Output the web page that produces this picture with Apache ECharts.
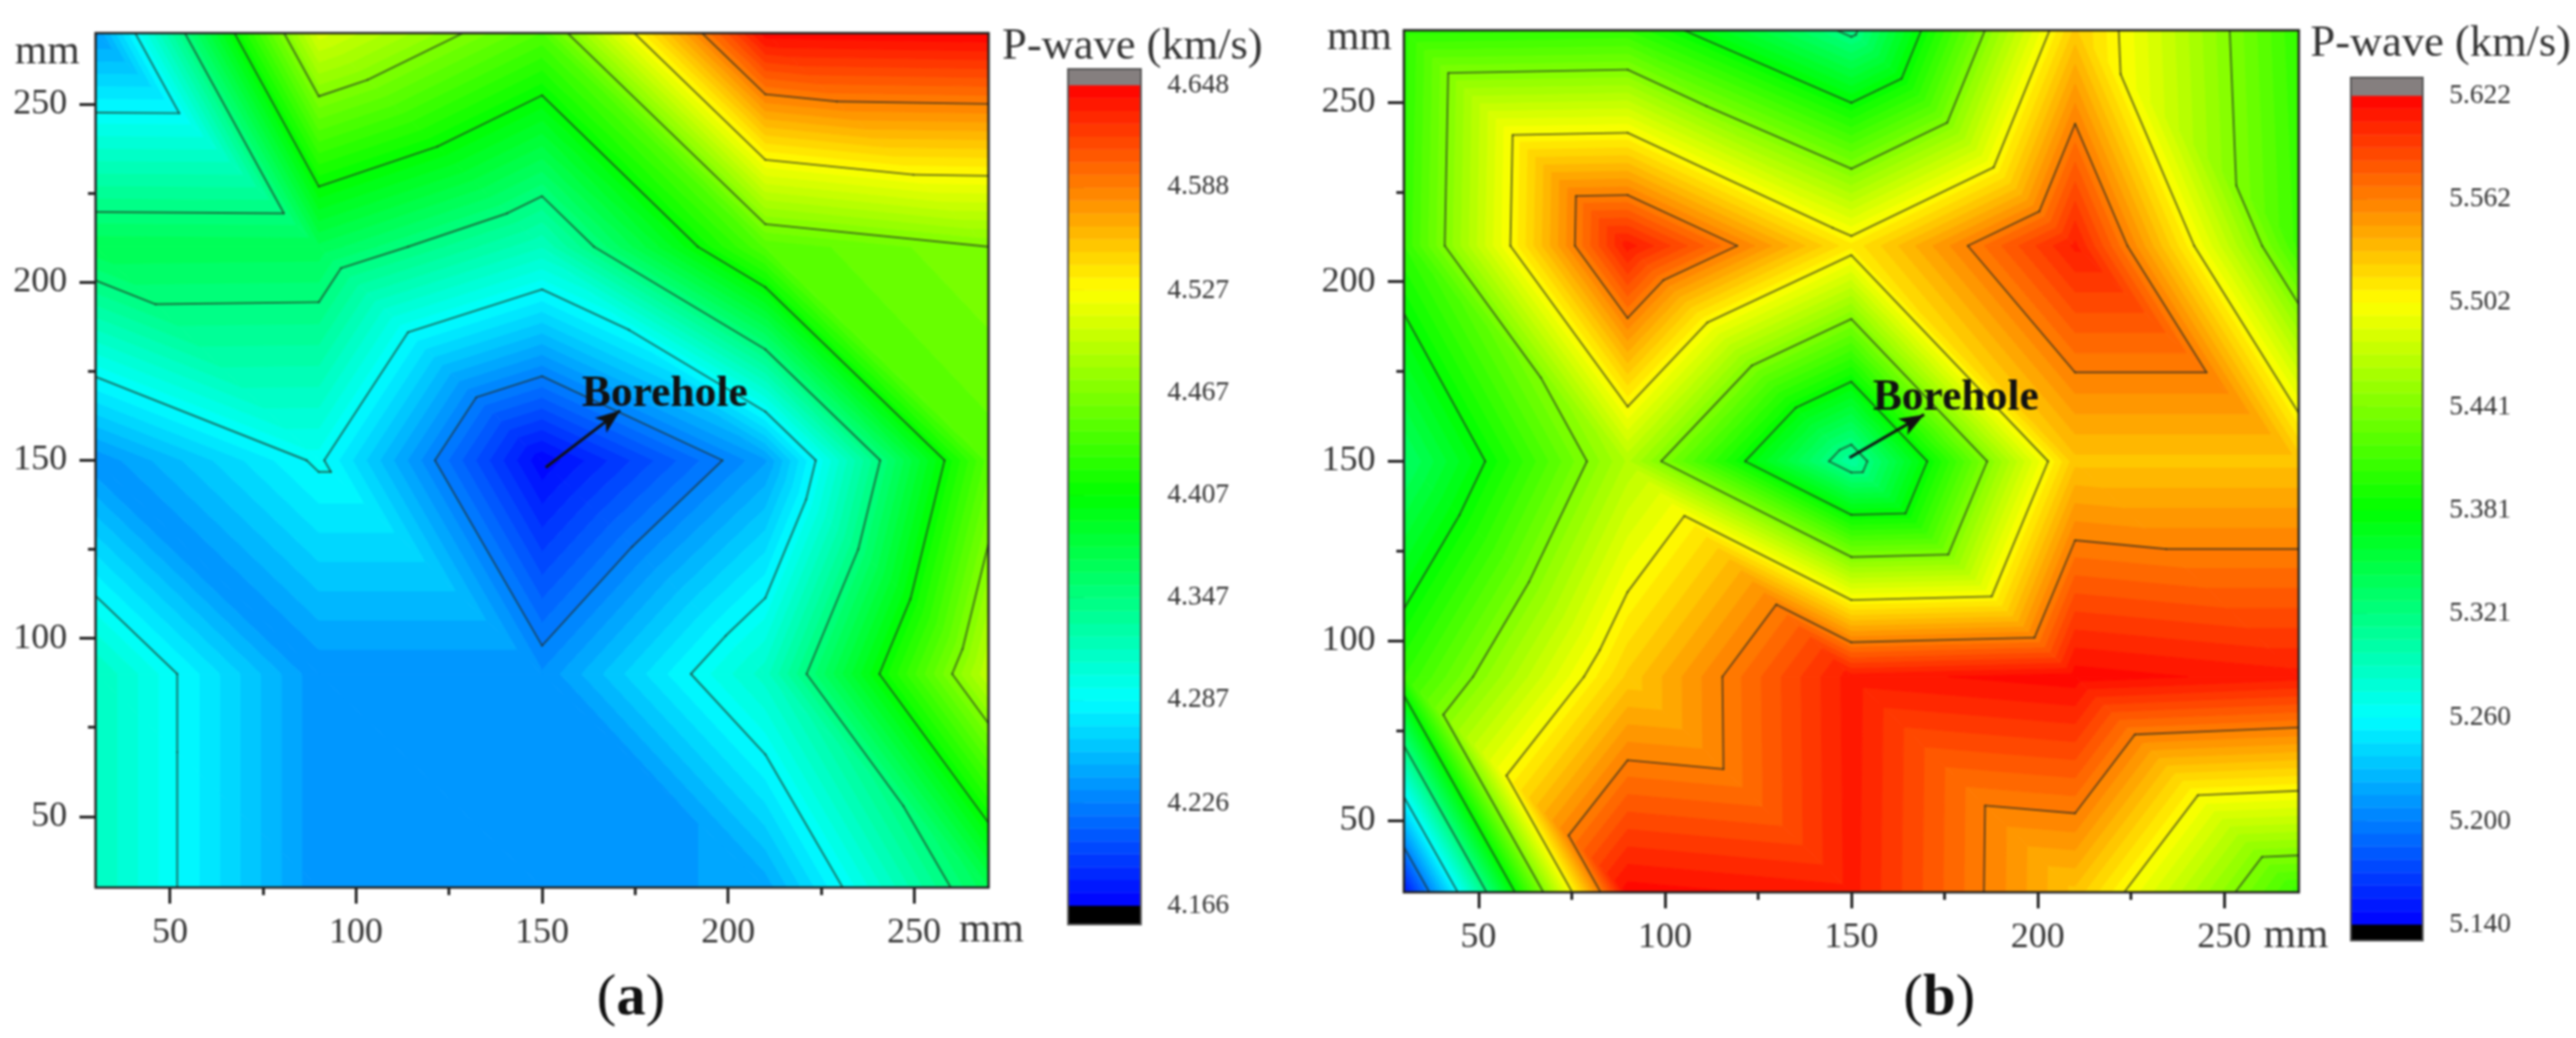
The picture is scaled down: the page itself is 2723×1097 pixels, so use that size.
<!DOCTYPE html>
<html>
<head>
<meta charset="utf-8">
<style>
  html, body { margin: 0; padding: 0; background: #fff; }
  /* the reference is a soft scan, this takes the hard edge off the bands */
  #main { width: 2723px; height: 1097px; filter: blur(0.8px); }
</style>
<script src="https://cdn.jsdelivr.net/npm/echarts@6/dist/echarts.min.js"></script>
</head>
<body>
<div id="main"></div>
<script>
// measuring points in mm
const gridX = [30, 90, 150, 210, 270];
const gridY = [30, 90, 150, 210, 270];

// P-wave velocity (km/s), one row per gridY value
const waveA = [
  [4.317, 4.235, 4.235, 4.244, 4.368],
  [4.317, 4.235, 4.235, 4.313, 4.497],
  [4.235, 4.290, 4.167, 4.240, 4.448],
  [4.368, 4.367, 4.317, 4.446, 4.467],
  [4.239, 4.509, 4.444, 4.645, 4.648],
];
const waveB = [
  [5.146, 5.619, 5.610, 5.529, 5.406],
  [5.403, 5.526, 5.611, 5.619, 5.610],
  [5.333, 5.465, 5.305, 5.529, 5.529],
  [5.403, 5.611, 5.511, 5.609, 5.408],
  [5.399, 5.403, 5.315, 5.526, 5.403],
];

// colour bar ticks, these are also the contour levels
const ticksA = [4.166, 4.226, 4.287, 4.347, 4.407, 4.467, 4.527, 4.588, 4.648];
const ticksB = [5.14, 5.2, 5.26, 5.321, 5.381, 5.441, 5.502, 5.562, 5.622];

const axisMajor = [50, 100, 150, 200, 250];
const axisMinor = [75, 125, 175, 225];

const bandsPerTick = 8;
const serif = "'Liberation Serif', serif";
const textColor = "#333";

function rainbow(t) {
  const stops = [[0, 0, 255], [0, 255, 255], [0, 255, 0], [255, 255, 0], [255, 0, 0]];
  const p = Math.min(t, 0.9999) * 4;
  const i = Math.floor(p);
  const f = p - i;
  const c = stops[i].map((s, n) => Math.round(s + (stops[i + 1][n] - s) * f));
  return "rgb(" + c.join(",") + ")";
}

function makeBands(ticks) {
  const count = (ticks.length - 1) * bandsPerTick;
  const lo = ticks[0];
  const step = (ticks[ticks.length - 1] - lo) / count;
  const bands = [];
  for (let i = 0; i < count; i++) {
    bands.push({ lo: lo + i * step, hi: lo + (i + 1) * step, color: rainbow((i + 0.5) / count) });
  }
  return bands;
}

// every grid cell is split by its top-left to bottom-right diagonal
function makeTriangles(rows) {
  const list = [];
  for (let j = 0; j < gridY.length - 1; j++) {
    for (let i = 0; i < gridX.length - 1; i++) {
      const tl = [gridX[i], gridY[j + 1], rows[j + 1][i]];
      const tr = [gridX[i + 1], gridY[j + 1], rows[j + 1][i + 1]];
      const bl = [gridX[i], gridY[j], rows[j][i]];
      const br = [gridX[i + 1], gridY[j], rows[j][i + 1]];
      list.push([...tl, ...bl, ...br]);
      list.push([...tl, ...tr, ...br]);
    }
  }
  return list;
}

function trianglePoints(api) {
  const pts = [];
  for (let n = 0; n < 3; n++) {
    const c = api.coord([api.value(n * 3), api.value(n * 3 + 1)]);
    pts.push([c[0], c[1], api.value(n * 3 + 2)]);
  }
  return pts;
}

function cross(a, b, level) {
  const t = (level - a[2]) / (b[2] - a[2]);
  return [a[0] + (b[0] - a[0]) * t, a[1] + (b[1] - a[1]) * t, level];
}

// keep the part of a polygon on one side of a level
function clipAt(poly, level, keepAbove) {
  const out = [];
  for (let i = 0; i < poly.length; i++) {
    const a = poly[i];
    const b = poly[(i + 1) % poly.length];
    const aIn = keepAbove ? a[2] >= level : a[2] <= level;
    const bIn = keepAbove ? b[2] >= level : b[2] <= level;
    if (aIn) out.push(a);
    if (aIn !== bIn) out.push(cross(a, b, level));
  }
  return out;
}

function fillSeries(rows, ticks, axisIndex) {
  const bands = makeBands(ticks);
  return {
    type: "custom",
    xAxisIndex: axisIndex,
    yAxisIndex: axisIndex,
    silent: true,
    animation: false,
    clip: true,
    z: 2,
    data: makeTriangles(rows),
    renderItem(params, api) {
      const pts = trianglePoints(api);
      const children = [];
      bands.forEach((band, i) => {
        let poly = i === 0 ? pts : clipAt(pts, band.lo, true);
        if (i < bands.length - 1) poly = clipAt(poly, band.hi, false);
        if (poly.length < 3) return;
        children.push({
          type: "polygon",
          shape: { points: poly.map((p) => [p[0], p[1]]) },
          style: { fill: band.color, stroke: band.color, lineWidth: 1 },
        });
      });
      return { type: "group", children };
    },
  };
}

function lineSeries(rows, ticks, axisIndex, arrow, label) {
  return {
    type: "custom",
    xAxisIndex: axisIndex,
    yAxisIndex: axisIndex,
    silent: true,
    animation: false,
    clip: true,
    z: 3,
    data: makeTriangles(rows),
    renderItem(params, api) {
      const pts = trianglePoints(api);
      const children = [];
      ticks.forEach((level) => {
        const hits = [];
        for (let i = 0; i < 3; i++) {
          const a = pts[i];
          const b = pts[(i + 1) % 3];
          if (a[2] >= level !== b[2] >= level) hits.push(cross(a, b, level));
        }
        if (hits.length === 2) {
          children.push({
            type: "line",
            shape: { x1: hits[0][0], y1: hits[0][1], x2: hits[1][0], y2: hits[1][1] },
            style: { stroke: "rgba(35,45,35,0.68)", lineWidth: 1.9, lineCap: "round" },
          });
        }
      });
      return { type: "group", children };
    },
    markLine: {
      silent: true,
      animation: false,
      symbol: ["none", "arrow"],
      symbolSize: [15, 26],
      label: { show: false },
      lineStyle: { color: "#111", width: 3, type: "solid" },
      data: [[{ coord: arrow[0] }, { coord: arrow[1] }]],
    },
    markPoint: {
      silent: true,
      animation: false,
      symbol: "circle",
      symbolSize: 1,
      itemStyle: { color: "transparent" },
      label: {
        show: true,
        position: "inside",
        formatter: "Borehole",
        fontFamily: serif,
        fontWeight: "bold",
        fontSize: 46,
        color: "#111",
      },
      data: [{ coord: label }],
    },
  };
}

function barSeries(ticks, axisMin, axisMax, axisIndex) {
  const bands = makeBands(ticks).map((b) => [b.lo, b.hi, b.color]);
  bands.unshift([axisMin, ticks[0], "#000"]);
  bands.push([ticks[ticks.length - 1], axisMax, "#857f7f"]);
  return {
    type: "custom",
    xAxisIndex: axisIndex,
    yAxisIndex: axisIndex,
    silent: true,
    animation: false,
    z: 2,
    data: bands.map((b) => [b[0], b[1]]),
    renderItem(params, api) {
      const a = api.coord([0, api.value(1)]);
      const b = api.coord([1, api.value(0)]);
      const color = bands[params.dataIndex][2];
      return {
        type: "rect",
        shape: { x: a[0], y: a[1], width: b[0] - a[0], height: b[1] - a[1] },
        style: { fill: color, stroke: color, lineWidth: 0.5 },
      };
    },
  };
}

function plotX(gridIndex, values, length, withLabel) {
  return {
    type: "value",
    gridIndex,
    min: 30,
    max: 270,
    position: "bottom",
    splitLine: { show: false },
    axisLine: { show: false },
    axisTick: { show: true, customValues: values, length, lineStyle: { color: "#222", width: 3 } },
    axisLabel: {
      show: withLabel,
      customValues: values,
      margin: 29,
      fontFamily: serif,
      fontSize: 38,
      color: textColor,
    },
  };
}

function plotY(gridIndex, values, length, withLabel) {
  return {
    type: "value",
    gridIndex,
    min: 30,
    max: 270,
    position: "left",
    splitLine: { show: false },
    axisLine: { show: false },
    axisTick: { show: true, customValues: values, length, lineStyle: { color: "#222", width: 3 } },
    axisLabel: {
      show: withLabel,
      customValues: values,
      margin: 30,
      fontFamily: serif,
      fontSize: 38,
      color: textColor,
    },
  };
}

function barX(gridIndex) {
  return { type: "value", gridIndex, min: 0, max: 1, show: false, splitLine: { show: false } };
}

function barY(gridIndex, ticks, axisMin, axisMax) {
  return {
    type: "value",
    gridIndex,
    min: axisMin,
    max: axisMax,
    position: "right",
    splitLine: { show: false },
    axisLine: { show: false },
    axisTick: { show: true, customValues: ticks, length: 17, lineStyle: { color: "#444", width: 2.5 } },
    axisLabel: {
      show: true,
      customValues: ticks,
      margin: 28,
      fontFamily: serif,
      fontSize: 29,
      color: textColor,
      formatter: (v) => v.toFixed(3),
    },
  };
}

function frame(left, top, width, height, color, lineWidth) {
  return {
    show: true,
    left,
    top,
    width,
    height,
    z: 5,
    outerBoundsMode: "none",
    backgroundColor: "transparent",
    borderColor: color,
    borderWidth: lineWidth,
  };
}

function note(text, x, y, fontSize) {
  return {
    type: "text",
    x,
    y,
    style: {
      text,
      x: 0,
      y: 0,
      align: "center",
      verticalAlign: "middle",
      font: fontSize + "px " + serif,
      fill: textColor,
    },
  };
}

// panel letter: regular brackets round a bold letter
function panelLetter(letter, x, y) {
  return {
    type: "text",
    x,
    y,
    style: {
      text: "{p|(}{b|" + letter + "}{p|)}",
      x: 0,
      y: 0,
      align: "center",
      verticalAlign: "middle",
      rich: {
        p: { fontFamily: serif, fontSize: 62, fill: "#111" },
        b: { fontFamily: serif, fontSize: 62, fontWeight: "bold", fill: "#111" },
      },
    },
  };
}

const barMinA = 4.1549;
const barMaxA = 4.6574;
const barMinB = 5.1306;
const barMaxB = 5.6325;

const chart = echarts.init(document.getElementById("main"));
chart.setOption({
  backgroundColor: "#fff",
  animation: false,
  grid: [
    frame(101, 35, 944, 903, "#222", 2.5),
    frame(1484, 32, 946, 911, "#222", 2.5),
    frame(1129, 73, 77, 904, "#555", 2),
    frame(2485, 82, 76, 912, "#555", 2),
  ],
  xAxis: [
    plotX(0, axisMajor, 17, true),
    plotX(0, axisMinor, 8, false),
    plotX(1, axisMajor, 17, true),
    plotX(1, axisMinor, 8, false),
    barX(2),
    barX(3),
  ],
  yAxis: [
    plotY(0, axisMajor, 17, true),
    plotY(0, axisMinor, 8, false),
    plotY(1, axisMajor, 17, true),
    plotY(1, axisMinor, 8, false),
    barY(2, ticksA, barMinA, barMaxA),
    barY(3, ticksB, barMinB, barMaxB),
  ],
  series: [
    fillSeries(waveA, ticksA, 0),
    lineSeries(waveA, ticksA, 0, [[151, 148], [171, 164]], [183, 168.5]),
    fillSeries(waveB, ticksB, 2),
    lineSeries(waveB, ticksB, 2, [[149.5, 151], [169.5, 163]], [178, 167.5]),
    barSeries(ticksA, barMinA, barMaxA, 4),
    barSeries(ticksB, barMinB, barMaxB, 5),
  ],
  graphic: [
    note("mm", 50, 55, 44),
    note("mm", 1048, 983, 44),
    note("mm", 1437, 40, 44),
    note("mm", 2427, 989, 44),
    note("P-wave (km/s)", 1197, 50, 47),
    note("P-wave (km/s)", 2580, 47, 47),
    panelLetter("a", 667, 1056),
    panelLetter("b", 2050, 1056),
  ],
});
</script>
</body>
</html>
